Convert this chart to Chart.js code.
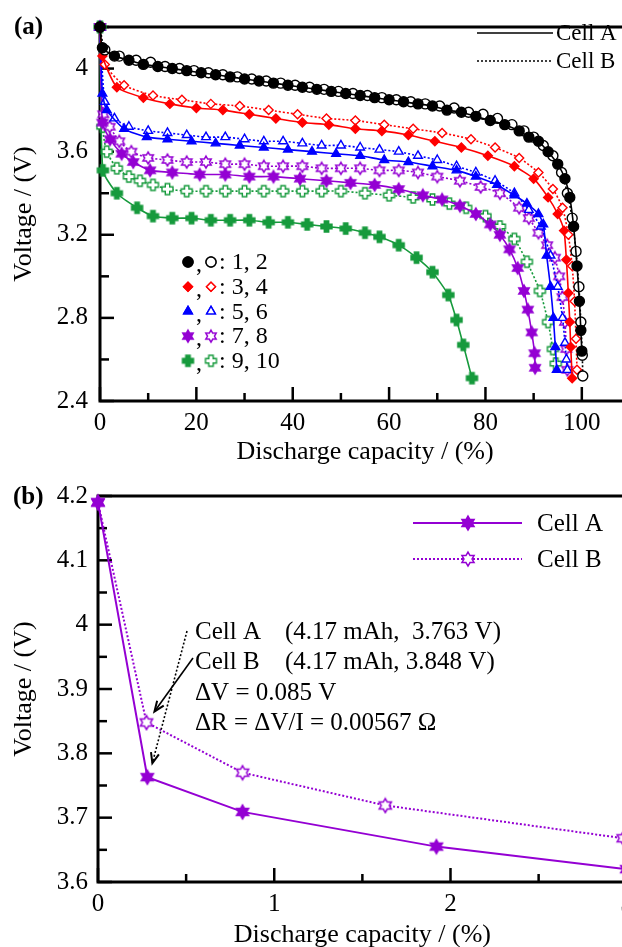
<!DOCTYPE html>
<html>
<head>
<meta charset="utf-8">
<script src="https://cdn.jsdelivr.net/npm/chart.js@4.4.1/dist/chart.umd.min.js"></script>
<style>
  html, body { margin: 0; padding: 0; background: #fff; overflow: hidden; width: 622px; height: 947px; }
  #chartA { position: absolute; left: 0; top: 0; }
  #chartB { position: absolute; left: 0; top: 470px; }
</style>
</head>
<body>
<canvas id="chartA" width="640" height="470"></canvas>
<canvas id="chartB" width="640" height="481"></canvas>
<script>
// ---- panel (a): discharge curves, capacity (%) vs voltage (V) ----
const curve1Cap = [0, 0.5, 3, 6, 9, 12, 15, 18, 21, 24, 27, 30, 33, 36, 39, 42, 45, 48, 51, 54, 57, 60, 63, 66, 69, 72, 75, 78, 81, 84, 87, 89, 91, 93, 95, 96.5, 97.5, 98.3, 99, 99.5, 99.8, 100];
const curve1Volt = [4.2, 4.10, 4.06, 4.04, 4.02, 4.01, 4.00, 3.99, 3.98, 3.97, 3.96, 3.95, 3.94, 3.93, 3.92, 3.91, 3.90, 3.89, 3.88, 3.87, 3.86, 3.85, 3.84, 3.83, 3.82, 3.80, 3.79, 3.77, 3.75, 3.73, 3.70, 3.67, 3.65, 3.60, 3.54, 3.47, 3.38, 3.24, 3.05, 2.88, 2.74, 2.64];
const curve2Cap = [0, 1, 4, 7.5, 10.5, 13.5, 16.5, 19.5, 22.5, 25.5, 28.5, 31.5, 34.5, 37.5, 40.5, 43.5, 46.5, 49.5, 52.5, 55.5, 58.5, 61.5, 64.5, 67.5, 70.5, 73.5, 76.5, 79.5, 82.5, 85.5, 88, 90, 92, 94, 95.8, 97, 98, 98.8, 99.4, 99.8, 100.1, 100.2];
const curve2Volt = [4.2, 4.09, 4.06, 4.04, 4.03, 4.01, 4.00, 3.99, 3.98, 3.97, 3.96, 3.95, 3.94, 3.93, 3.92, 3.91, 3.90, 3.89, 3.88, 3.87, 3.86, 3.85, 3.84, 3.83, 3.82, 3.81, 3.79, 3.78, 3.76, 3.73, 3.70, 3.67, 3.63, 3.58, 3.50, 3.40, 3.28, 3.12, 2.95, 2.78, 2.62, 2.52];
const curve3Cap = [0, 0.5, 3.5, 9, 14.5, 20, 25.5, 31, 36.5, 42, 47.5, 53, 58.5, 64, 69.5, 75, 80.5, 86, 90, 93, 95, 96.3, 96.8, 97.2, 97.5, 97.7, 98];
const curve3Volt = [4.2, 4.06, 3.91, 3.86, 3.83, 3.81, 3.80, 3.78, 3.76, 3.74, 3.73, 3.71, 3.70, 3.68, 3.65, 3.62, 3.58, 3.53, 3.47, 3.38, 3.30, 3.22, 3.08, 2.92, 2.78, 2.66, 2.51];
const curve4Cap = [0, 1, 5, 11, 17, 23, 29, 35, 41, 47, 53, 59, 65, 71, 77, 82, 87, 91, 94, 96, 97.2, 98, 98.5, 98.8, 99];
const curve4Volt = [4.2, 4.02, 3.92, 3.87, 3.85, 3.83, 3.82, 3.80, 3.78, 3.76, 3.75, 3.73, 3.71, 3.69, 3.66, 3.62, 3.57, 3.50, 3.42, 3.33, 3.20, 3.05, 2.88, 2.70, 2.55];
const curve5Cap = [0, 0.5, 1.4, 5, 9.7, 14, 19, 24, 29, 34, 39, 44, 49, 54, 59, 64, 69, 74, 78, 82.4, 86, 88.6, 91, 92, 92.7, 93.5, 94.1, 94.5, 94.8];
const curve5Volt = [4.2, 3.88, 3.80, 3.71, 3.67, 3.66, 3.65, 3.64, 3.63, 3.62, 3.61, 3.60, 3.59, 3.58, 3.56, 3.55, 3.53, 3.51, 3.48, 3.44, 3.39, 3.35, 3.30, 3.25, 3.10, 2.95, 2.80, 2.66, 2.55];
const curve6Cap = [0, 1, 3, 6, 10, 14, 18, 22, 26, 30, 34, 38, 42, 46, 50, 54, 58, 62, 66, 70, 74, 78, 82, 86, 89, 91.5, 93.5, 95, 96, 96.5, 96.8, 97];
const curve6Volt = [4.2, 3.84, 3.76, 3.72, 3.70, 3.69, 3.68, 3.67, 3.67, 3.66, 3.65, 3.65, 3.64, 3.63, 3.63, 3.62, 3.61, 3.60, 3.58, 3.56, 3.53, 3.50, 3.46, 3.40, 3.32, 3.24, 3.10, 2.95, 2.80, 2.68, 2.60, 2.55];
const curve7Cap = [0, 0.5, 2.1, 4.5, 6.9, 10.4, 15, 20.7, 26, 31, 36, 41.5, 47, 52, 57, 62, 67, 71, 74.7, 78, 81, 83, 85, 86.7, 88, 88.8, 89.6, 90.2, 90.3];
const curve7Volt = [4.2, 3.74, 3.66, 3.59, 3.55, 3.51, 3.50, 3.49, 3.49, 3.48, 3.48, 3.47, 3.46, 3.45, 3.44, 3.42, 3.39, 3.37, 3.34, 3.30, 3.25, 3.20, 3.13, 3.04, 2.93, 2.84, 2.73, 2.63, 2.56];
const curve8Cap = [0, 0.7, 2, 4, 6.5, 10, 14, 18, 22, 26, 30, 34, 38, 42, 46, 50, 54, 58, 62, 66, 70, 74.7, 79, 83, 87, 89, 91, 92.8, 94.4, 95.3, 96, 96.5, 96.8, 97];
const curve8Volt = [4.2, 3.78, 3.72, 3.65, 3.60, 3.57, 3.56, 3.55, 3.55, 3.54, 3.54, 3.53, 3.53, 3.53, 3.52, 3.52, 3.52, 3.51, 3.51, 3.50, 3.48, 3.46, 3.43, 3.40, 3.33, 3.28, 3.21, 3.15, 3.09, 3.00, 2.90, 2.78, 2.65, 2.55];
const curve9Cap = [0, 0.6, 3.5, 7.7, 11, 15, 19, 23, 27, 31, 35, 39, 43, 47, 51, 55, 58, 62, 65.7, 69, 72.3, 74, 75.4, 77.2];
const curve9Volt = [4.2, 3.51, 3.40, 3.33, 3.29, 3.28, 3.28, 3.27, 3.27, 3.27, 3.26, 3.26, 3.25, 3.24, 3.23, 3.21, 3.19, 3.15, 3.09, 3.02, 2.91, 2.79, 2.67, 2.51];
const curve10Cap = [0, 0.5, 1.4, 3.5, 6, 8.3, 11, 14, 18, 22, 26, 30, 34, 38, 42, 46, 50, 55, 60, 65, 69, 72.5, 76, 80, 83, 86, 88.6, 91.3, 93, 94, 94.6];
const curve10Volt = [4.2, 3.72, 3.60, 3.52, 3.48, 3.46, 3.44, 3.42, 3.41, 3.41, 3.41, 3.41, 3.41, 3.41, 3.41, 3.41, 3.41, 3.40, 3.39, 3.38, 3.37, 3.35, 3.33, 3.29, 3.24, 3.18, 3.07, 2.93, 2.78, 2.65, 2.58];
const legendRowsA = ['1, 2', '3, 4', '5, 6', '7, 8', '9, 10'];

// ---- panel (b): zoom on the first 3 % ----
const cellACapB = [0, 0.28, 0.82, 1.92, 3.0];
const cellAVoltB = [4.19, 3.763, 3.709, 3.655, 3.62];
const cellBCapB = [0, 0.275, 0.82, 1.63, 2.98];
const cellBVoltB = [4.19, 3.848, 3.77, 3.719, 3.668];
const noteLinesB = [
  ['Cell A', '(4.17 mAh,  3.763 V)'],
  ['Cell B', '(4.17 mAh, 3.848 V)'],
  ['\u0394V = 0.085 V', ''],
  ['\u0394R = \u0394V/I = 0.00567 \u03A9', '']
];

const FONT = "'Liberation Serif', 'Times New Roman', serif";
Chart.defaults.font.family = FONT;
Chart.defaults.color = '#000';

const BLACK = '#000000', RED = '#ff0000', BLUE = '#0000ff', PURPLE = '#9400d3', GREEN = '#169a3c';

// hexagram marker as a small canvas
function starImage(size, color, filled) {
  const c = document.createElement('canvas');
  c.width = c.height = size + 4;
  const g = c.getContext('2d'), m = c.width / 2, r = size / 2;
  g.beginPath();
  for (let k = 0; k < 12; k++) {
    const a = -Math.PI / 2 + k * Math.PI / 6;
    const rr = k % 2 ? r / Math.sqrt(3) : r;
    g.lineTo(m + rr * Math.cos(a), m + rr * Math.sin(a));
  }
  g.closePath();
  g.fillStyle = filled ? color : '#fff';
  g.fill();
  g.lineWidth = 1.5;
  g.strokeStyle = color;
  g.stroke();
  return c;
}

// thick plus marker
function plusImage(size, color, filled) {
  const c = document.createElement('canvas');
  c.width = c.height = size + 4;
  const g = c.getContext('2d'), m = c.width / 2, r = size / 2, w = size * 0.2;
  const pts = [[-w, -r], [w, -r], [w, -w], [r, -w], [r, w], [w, w], [w, r], [-w, r], [-w, w], [-r, w], [-r, -w], [-w, -w]];
  g.beginPath();
  pts.forEach(p => g.lineTo(m + p[0], m + p[1]));
  g.closePath();
  g.fillStyle = filled ? color : '#fff';
  g.fill();
  g.lineWidth = 1.4;
  g.strokeStyle = color;
  g.stroke();
  return c;
}

const markersA = [
  { color: BLACK, style: 'circle', r: 5 },
  { color: RED, style: 'rectRot', r: 4.5 },
  { color: BLUE, style: 'triangle', r: 5 },
  { color: PURPLE, filledImg: starImage(12, PURPLE, true), openImg: starImage(12, PURPLE, false) },
  { color: GREEN, filledImg: plusImage(11, GREEN, true), openImg: plusImage(11, GREEN, false) }
];

function curve(cap, volt, mk, filled, dashed) {
  const img = filled ? mk.filledImg : mk.openImg;
  return {
    data: cap.map((x, i) => ({ x: x, y: volt[i] })),
    borderColor: mk.color,
    borderWidth: 1.6,
    borderDash: dashed ? [2, 2] : [],
    pointStyle: img || mk.style,
    pointRadius: mk.r || 5,
    pointBorderColor: mk.color,
    pointBackgroundColor: filled ? mk.color : '#fff',
    pointBorderWidth: 1.4,
    tension: 0.2,
    fill: false,
    clip: false
  };
}

function drawMarker(ctx, mk, filled, x, y) {
  const img = filled ? mk.filledImg : mk.openImg;
  if (img) {
    ctx.drawImage(img, x - img.width / 2, y - img.height / 2);
    return;
  }
  ctx.save();
  ctx.fillStyle = filled ? mk.color : '#fff';
  ctx.strokeStyle = mk.color;
  ctx.lineWidth = 1.4;
  Chart.helpers.drawPoint(ctx, { pointStyle: mk.style, radius: mk.r, rotation: 0, borderWidth: 1.4 }, x, y);
  ctx.fill();
  ctx.stroke();
  ctx.restore();
}

// axes frame with inward ticks
function drawFrame(chart, isMajorX, isMajorY) {
  const { ctx, chartArea: a, scales } = chart;
  ctx.save();
  ctx.strokeStyle = '#000';
  ctx.lineWidth = 3;
  ctx.lineCap = 'square';
  ctx.beginPath();
  ctx.moveTo(a.right + 20, a.top); ctx.lineTo(a.left, a.top);
  ctx.lineTo(a.left, a.bottom); ctx.lineTo(a.right + 20, a.bottom);
  ctx.stroke();
  ctx.lineCap = 'butt';
  ctx.lineWidth = 2.5;
  scales.x.ticks.forEach(t => {
    const px = scales.x.getPixelForValue(t.value);
    const len = isMajorX(t.value) ? 14 : 8;
    ctx.beginPath(); ctx.moveTo(px, a.bottom); ctx.lineTo(px, a.bottom - len); ctx.stroke();
  });
  scales.y.ticks.forEach(t => {
    const py = scales.y.getPixelForValue(t.value);
    const len = isMajorY(t.value) ? 14 : 9;
    ctx.beginPath(); ctx.moveTo(a.left, py); ctx.lineTo(a.left + len, py); ctx.stroke();
  });
  ctx.restore();
}

const isInt = (v, step) => Math.abs(v / step - Math.round(v / step)) < 1e-6;

// ---------------- chart (a) ----------------
const plotA = {
  id: 'plotA',
  beforeDatasetsDraw(chart) {
    drawFrame(chart, v => isInt(v, 20), v => isInt(v - 2.4, 0.4));
  },
  afterDraw(chart) {
    const ctx = chart.ctx;
    ctx.save();
    ctx.fillStyle = '#000';
    ctx.textBaseline = 'middle';
    ctx.font = 'bold 25px ' + FONT;
    ctx.fillText('(a)', 14, 28);
    // line-style key
    ctx.font = '23px ' + FONT;
    ctx.strokeStyle = '#000';
    ctx.lineWidth = 1.6;
    ctx.beginPath(); ctx.moveTo(477, 33); ctx.lineTo(553, 33); ctx.stroke();
    ctx.setLineDash([2, 2]);
    ctx.beginPath(); ctx.moveTo(477, 61); ctx.lineTo(553, 61); ctx.stroke();
    ctx.setLineDash([]);
    ctx.fillText('Cell A', 556, 34);
    ctx.fillText('Cell B', 556, 62);
    // marker key
    ctx.font = '24px ' + FONT;
    legendRowsA.forEach((txt, i) => {
      const y = 262 + i * 24.7;
      drawMarker(ctx, markersA[i], true, 188, y);
      ctx.fillStyle = '#000';
      ctx.fillText(',', 196, y + 3);
      drawMarker(ctx, markersA[i], false, 211, y);
      ctx.fillStyle = '#000';
      ctx.fillText(': ' + txt, 219, y + 1);
    });
    ctx.restore();
  }
};

new Chart(document.getElementById('chartA'), {
  type: 'line',
  data: {
    datasets: [
      curve(curve1Cap, curve1Volt, markersA[0], true, false),
      curve(curve2Cap, curve2Volt, markersA[0], false, true),
      curve(curve3Cap, curve3Volt, markersA[1], true, false),
      curve(curve4Cap, curve4Volt, markersA[1], false, true),
      curve(curve5Cap, curve5Volt, markersA[2], true, false),
      curve(curve6Cap, curve6Volt, markersA[2], false, true),
      curve(curve7Cap, curve7Volt, markersA[3], true, false),
      curve(curve8Cap, curve8Volt, markersA[3], false, true),
      curve(curve9Cap, curve9Volt, markersA[4], true, false),
      curve(curve10Cap, curve10Volt, markersA[4], false, true)
    ]
  },
  options: {
    responsive: false,
    animation: false,
    layout: { padding: { top: 14, right: 10, left: 0, bottom: 0 } },
    plugins: { legend: { display: false }, tooltip: { enabled: false } },
    scales: {
      x: {
        type: 'linear', min: 0, max: 110,
        grid: { display: false, drawTicks: false },
        border: { display: false },
        ticks: {
          stepSize: 10, autoSkip: false, maxRotation: 0, padding: 7,
          font: { size: 25 },
          callback: v => isInt(v, 20) ? String(v) : ''
        },
        title: { display: true, text: 'Discharge capacity / (%)', font: { size: 26 }, padding: { top: 0, bottom: 2 } },
        afterFit: s => { s.height = 69; }
      },
      y: {
        type: 'linear', min: 2.4, max: 4.2,
        grid: { display: false, drawTicks: false },
        border: { display: false },
        ticks: {
          stepSize: 0.2, autoSkip: false, padding: 12,
          font: { size: 25 },
          callback: v => isInt(v - 2.4, 0.4) ? String(Number(v.toFixed(2))) : ''
        },
        title: { display: true, text: 'Voltage / (V)', font: { size: 26 }, padding: { top: 9, bottom: 0 } },
        afterFit: s => { s.width = 100; }
      }
    }
  },
  plugins: [plotA]
});

// ---------------- chart (b) ----------------
const starFilledB = starImage(14, PURPLE, true);
const starOpenB = starImage(14, PURPLE, false);

const plotB = {
  id: 'plotB',
  beforeDatasetsDraw(chart) {
    drawFrame(chart, v => isInt(v, 1), v => isInt(v, 0.1));
  },
  afterDraw(chart) {
    const { ctx, scales } = chart;
    ctx.save();
    ctx.fillStyle = '#000';
    ctx.textBaseline = 'middle';
    ctx.font = 'bold 25px ' + FONT;
    ctx.fillText('(b)', 13, 28);
    // legend
    ctx.font = '25px ' + FONT;
    ctx.strokeStyle = PURPLE;
    ctx.lineWidth = 2;
    ctx.beginPath(); ctx.moveTo(413, 53); ctx.lineTo(522, 53); ctx.stroke();
    ctx.setLineDash([2, 2]);
    ctx.beginPath(); ctx.moveTo(413, 89); ctx.lineTo(522, 89); ctx.stroke();
    ctx.setLineDash([]);
    ctx.drawImage(starFilledB, 468 - starFilledB.width / 2, 53 - starFilledB.height / 2);
    ctx.drawImage(starOpenB, 468 - starOpenB.width / 2, 89 - starOpenB.height / 2);
    ctx.fillStyle = '#000';
    ctx.fillText('Cell A', 537, 54);
    ctx.fillText('Cell B', 537, 90);
    // notes
    noteLinesB.forEach((ln, i) => {
      const y = 162 + i * 30.5;
      ctx.fillText(ln[0], 195, y);
      if (ln[1]) ctx.fillText(ln[1], 285, y);
    });
    // arrows to the first points after the step
    const ax = scales.x.getPixelForValue(cellACapB[1]), ay = scales.y.getPixelForValue(cellAVoltB[1]);
    const bx = scales.x.getPixelForValue(cellBCapB[1]), by = scales.y.getPixelForValue(cellBVoltB[1]);
    arrow(ctx, 193, 188, bx + 8, by - 11, []);
    arrow(ctx, 187, 161, ax + 5, ay - 14, [2, 2]);
    ctx.restore();
  }
};

function arrow(ctx, x1, y1, x2, y2, dash) {
  ctx.save();
  ctx.strokeStyle = '#000';
  ctx.fillStyle = '#000';
  ctx.lineWidth = 1.6;
  ctx.setLineDash(dash);
  ctx.beginPath(); ctx.moveTo(x1, y1); ctx.lineTo(x2, y2); ctx.stroke();
  ctx.setLineDash([]);
  const ang = Math.atan2(y2 - y1, x2 - x1), L = 11, W = 0.38;
  ctx.beginPath();
  ctx.moveTo(x2 - L * Math.cos(ang - W), y2 - L * Math.sin(ang - W));
  ctx.lineTo(x2, y2);
  ctx.lineTo(x2 - L * Math.cos(ang + W), y2 - L * Math.sin(ang + W));
  ctx.lineWidth = 2;
  ctx.stroke();
  ctx.restore();
}

new Chart(document.getElementById('chartB'), {
  type: 'line',
  data: {
    datasets: [
      {
        data: cellACapB.map((x, i) => ({ x: x, y: cellAVoltB[i] })),
        borderColor: PURPLE, borderWidth: 2, pointStyle: starFilledB, pointRadius: 7,
        tension: 0, fill: false, clip: false
      },
      {
        data: cellBCapB.map((x, i) => ({ x: x, y: cellBVoltB[i] })),
        borderColor: PURPLE, borderWidth: 2, borderDash: [2, 2], pointStyle: starOpenB, pointRadius: 7,
        tension: 0, fill: false, clip: false
      }
    ]
  },
  options: {
    responsive: false,
    animation: false,
    layout: { padding: { top: 26, right: 13, left: 0, bottom: 0 } },
    plugins: { legend: { display: false }, tooltip: { enabled: false } },
    scales: {
      x: {
        type: 'linear', min: 0, max: 3,
        grid: { display: false, drawTicks: false },
        border: { display: false },
        ticks: {
          stepSize: 0.5, autoSkip: false, maxRotation: 0, padding: 7,
          font: { size: 25 },
          callback: v => isInt(v, 1) ? String(Math.round(v)) : ''
        },
        title: { display: true, text: 'Discharge capacity / (%)', font: { size: 26 }, padding: { top: 0, bottom: 0 } },
        afterFit: s => { s.height = 69; }
      },
      y: {
        type: 'linear', min: 3.6, max: 4.2,
        grid: { display: false, drawTicks: false },
        border: { display: false },
        ticks: {
          stepSize: 0.05, autoSkip: false, padding: 10,
          font: { size: 25 },
          callback: v => isInt(v, 0.1) ? String(Number(v.toFixed(2))) : ''
        },
        title: { display: true, text: 'Voltage / (V)', font: { size: 26 }, padding: { top: 9, bottom: 0 } },
        afterFit: s => { s.width = 98; }
      }
    }
  },
  plugins: [plotB]
});
</script>
</body>
</html>
